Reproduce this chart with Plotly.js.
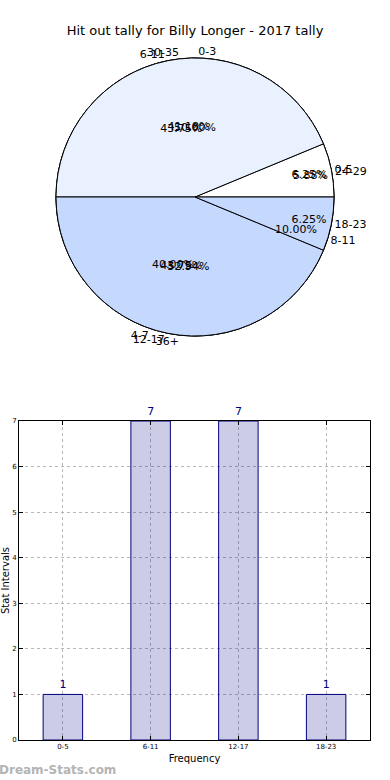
<!DOCTYPE html>
<html>
<head>
<meta charset="utf-8">
<script src="https://cdn.plot.ly/plotly-3.0.1.min.js"></script>
<style>html,body{margin:0;padding:0;background:#fff;}#chart{width:390px;height:780px;}</style>
</head>
<body>
<div id="chart"></div>
<script>
// ---- data ----
var titleText = "Hit out tally for Billy Longer - 2017 tally";
var pieALabels = ["0-5", "6-11", "12-17", "18-23"];
var pieAValues = [1, 7, 7, 1];
var pieBLabels = ["0-3", "4-7", "8-11"];
var pieBValues = [5, 4, 1];
var pieCLabels = ["24-29", "30-35", "36+"];
var pieCValues = [1, 7, 9];
var barCategories = ["0-5", "6-11", "12-17", "18-23"];
var barValues = [1, 7, 7, 1];
var yTickValues = [0, 1, 2, 3, 4, 5, 6, 7];

// ---- styles ----
var W = 390, H = 780;
var pieDomain = {x: [0, 1], y: [1 - 336 / H, 1 - 58 / H]};
var font = "DejaVu Sans, Verdana, sans-serif";
var pieColorsA = ["#ffffff", "#e9f1fe", "#c5d8fe", "#c5d8fe"];
var pieColorsB = ["#e9f1fe", "#c5d8fe", "#c5d8fe"];
var pieColorsC = ["#ffffff", "#e9f1fe", "#c5d8fe"];

// Plotly's counterclockwise pies keep slice 0 clockwise of the start angle;
// shift so slice 0 starts at 3 o'clock and all slices run counterclockwise.
function startRotation(values) {
  var total = values.reduce(function(a, b){return a + b;}, 0);
  return 90 - 360 * values[0] / total;
}

function filledPie(labels, values, colors) {
  return {
    type: "pie", labels: labels, values: values, sort: false,
    direction: "counterclockwise", rotation: startRotation(values), domain: pieDomain,
    marker: {colors: colors, line: {color: "#000000", width: 1}},
    textinfo: "label", textposition: "outside",
    outsidetextfont: {family: font, size: 11, color: "#000"},
    hoverinfo: "none", showlegend: false
  };
}
function textPie(labels, values) {
  return {
    type: "pie", labels: labels, values: values, sort: false,
    direction: "counterclockwise", rotation: startRotation(values), domain: pieDomain,
    marker: {colors: labels.map(function(){return "rgba(0,0,0,0)";}), line: {width: 0}},
    textinfo: "percent", texttemplate: "%{percent:.2%}", textposition: "inside",
    insidetextorientation: "horizontal",
    insidetextfont: {family: font, size: 11, color: "#000"},
    hoverinfo: "none", showlegend: false
  };
}

var traces = [
  filledPie(pieBLabels, pieBValues, pieColorsB),
  filledPie(pieCLabels, pieCValues, pieColorsC),
  filledPie(pieALabels, pieAValues, pieColorsA),
  textPie(pieBLabels, pieBValues),
  textPie(pieCLabels, pieCValues),
  textPie(pieALabels, pieAValues),
  {
    type: "bar", x: barCategories, y: barValues, width: 0.45,
    marker: {color: "rgba(0,0,128,0.2)", line: {color: "#000080", width: 1}},
    text: barValues.map(String), textposition: "outside", cliponaxis: false,
    textfont: {family: font, size: 10, color: "#000080"},
    hoverinfo: "none", showlegend: false
  }
];

var axisCommon = {
  showline: true, mirror: "ticks", linecolor: "#000", linewidth: 1,
  ticks: "inside", ticklen: 4, tickcolor: "#000",
  showgrid: true, gridcolor: "#b8b8b8", griddash: "dot", gridwidth: 1,
  zeroline: false, tickfont: {family: font, size: 7, color: "#000"}
};

var layout = {
  width: W, height: H,
  margin: {l: 0, r: 0, t: 0, b: 0},
  paper_bgcolor: "#fff", plot_bgcolor: "#fff",
  font: {family: font, color: "#000"},
  title: {text: titleText, x: 0.5, xanchor: "center", y: 1 - 30 / H, yanchor: "middle",
          font: {family: font, size: 13, color: "#000"}},
  uniformtext: {minsize: 11, mode: "show"},
  xaxis: Object.assign({}, axisCommon, {
    domain: [19 / W, 370 / W], anchor: "y", type: "category",
    range: [-0.5, 3.5],
    title: {text: "Frequency", standoff: 4, font: {family: font, size: 10, color: "#000"}}
  }),
  yaxis: Object.assign({}, axisCommon, {
    domain: [1 - 740 / H, 1 - 421 / H], anchor: "x",
    range: [0, 7], tickvals: yTickValues,
    title: {text: "Stat Intervals", standoff: 1, font: {family: font, size: 10, color: "#000"}}
  }),
  annotations: [{
    text: "<b>Dream-Stats.com</b>", xref: "paper", yref: "paper",
    x: -3 / W, y: 1 - 770 / H, xanchor: "left", yanchor: "middle", showarrow: false,
    font: {family: font, size: 12, color: "#b4b4b4"}
  }]
};

Plotly.newPlot("chart", traces, layout, {staticPlot: true, displayModeBar: false});
</script>
</body>
</html>
